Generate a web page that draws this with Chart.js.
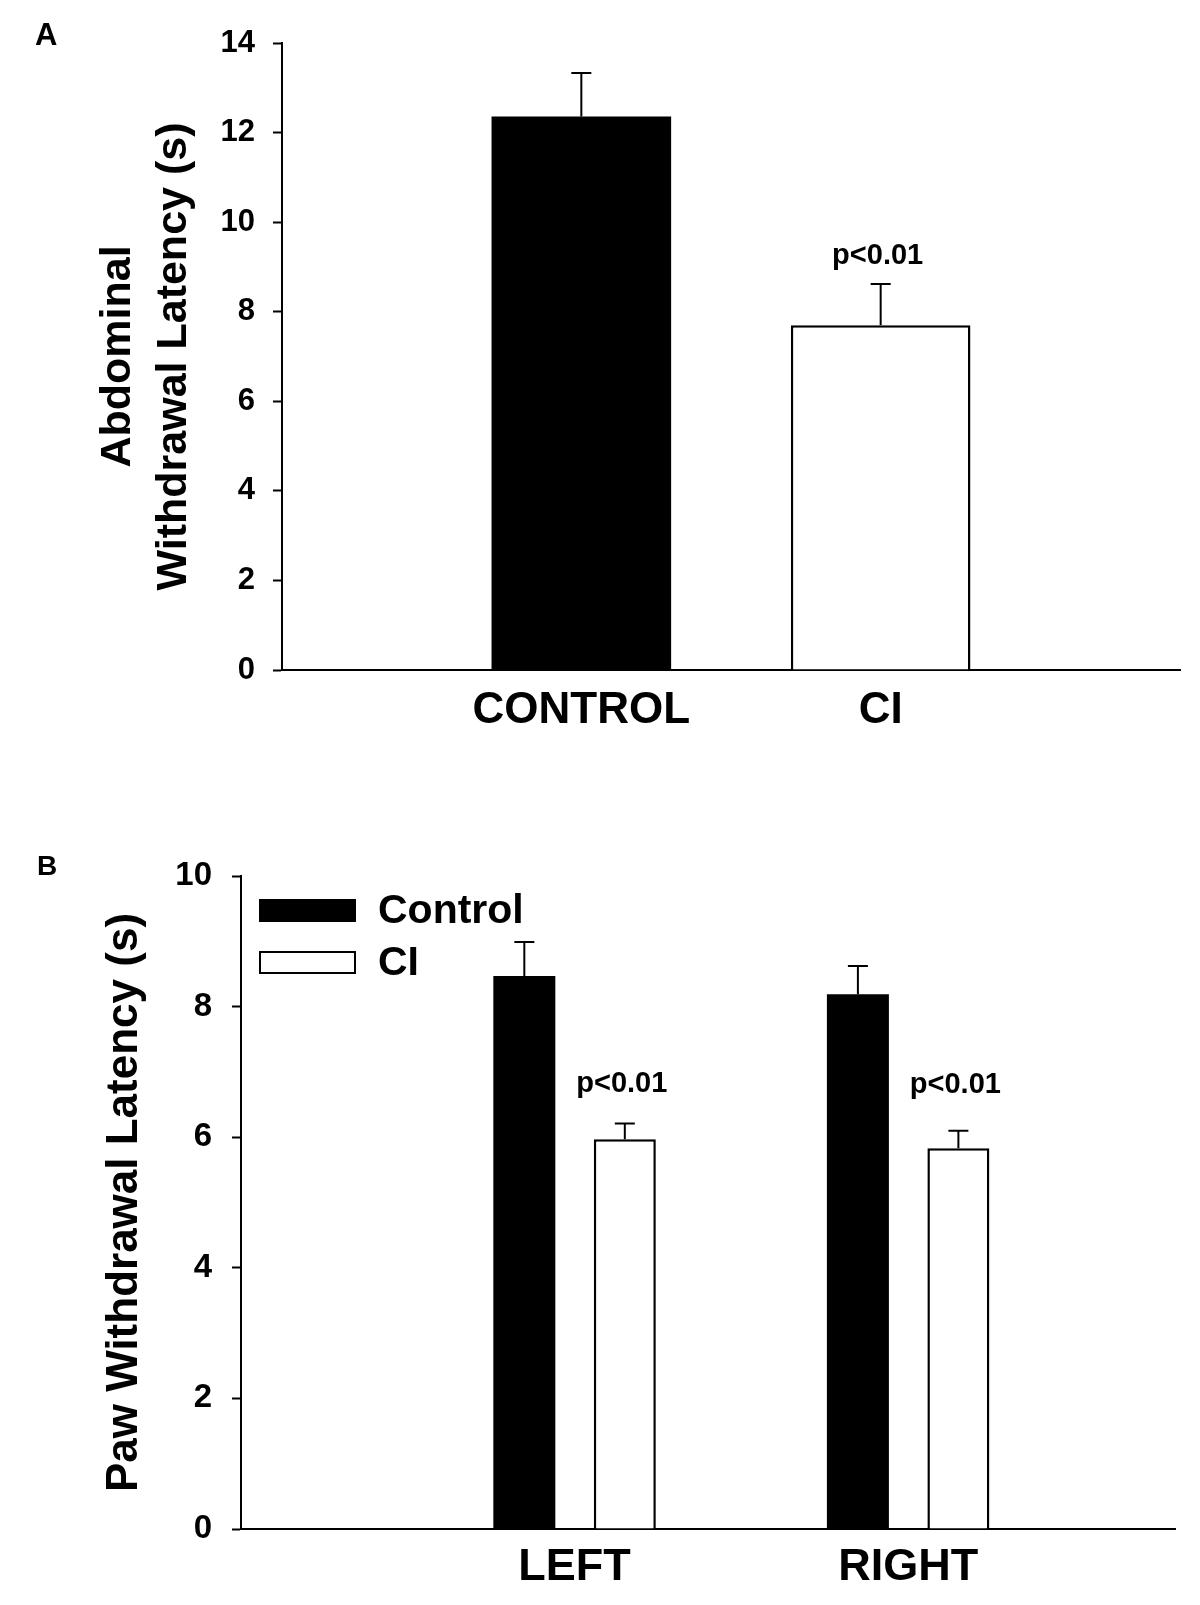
<!DOCTYPE html>
<html>
<head>
<meta charset="utf-8">
<script src="https://cdn.jsdelivr.net/npm/chart.js@4.4.0/dist/chart.umd.min.js"></script>
<style>
  body { margin: 0; background: #fff; }
  canvas { display: block; }
</style>
</head>
<body>
<canvas id="chartA" width="1200" height="790"></canvas>
<canvas id="chartB" width="1200" height="815"></canvas>
<script>
// panel A - abdominal withdrawal latency
const groupsA = ['CONTROL', 'CI'];
const latencyA = [12.36, 7.70];
const semA = [0.97, 0.92];
const pNoteA = ['', 'p<0.01'];
const pNoteYA = [null, 9.07];
const ticksA = [0, 2, 4, 6, 8, 10, 12, 14];

// panel B - paw withdrawal latency
const sidesB = ['LEFT', 'RIGHT'];
const controlB = [8.47, 8.19];
const controlSemB = [0.52, 0.43];
const ciB = [5.97, 5.83];
const ciSemB = [0.24, 0.27];
const pNoteB = ['p<0.01', 'p<0.01'];
const pNoteYB = [6.69, 6.67];
const ticksB = [0, 2, 4, 6, 8, 10];

const FONT = "'Liberation Sans', Arial, sans-serif";
Chart.defaults.font.family = FONT;
Chart.defaults.color = '#000';

// upper SEM whisker + cap, and the p-value note above it
const errorBars = {
  id: 'errorBars',
  afterDatasetsDraw(chart) {
    const ctx = chart.ctx;
    const yScale = chart.scales.y;
    chart.data.datasets.forEach((ds, di) => {
      const meta = chart.getDatasetMeta(di);
      meta.data.forEach((bar, i) => {
        const top = yScale.getPixelForValue(ds.data[i].y + ds.sem[i]);
        ctx.save();
        ctx.strokeStyle = '#000';
        ctx.lineWidth = 2;
        ctx.beginPath();
        ctx.moveTo(bar.x, bar.y);
        ctx.lineTo(bar.x, top);
        ctx.moveTo(bar.x - 10, top);
        ctx.lineTo(bar.x + 10, top);
        ctx.stroke();
        if (ds.notes && ds.notes[i]) {
          ctx.fillStyle = '#000';
          ctx.font = 'bold 29px ' + FONT;
          ctx.textAlign = 'center';
          ctx.textBaseline = 'alphabetic';
          ctx.fillText(ds.notes[i], bar.x - 3, yScale.getPixelForValue(ds.noteY[i]));
        }
        ctx.restore();
      });
    });
  }
};

const panelLetter = {
  id: 'panelLetter',
  afterDraw(chart, args, opts) {
    const ctx = chart.ctx;
    ctx.save();
    ctx.fillStyle = '#000';
    ctx.font = 'bold ' + opts.size + 'px ' + FONT;
    ctx.textBaseline = 'alphabetic';
    ctx.fillText(opts.text, opts.x, opts.y);
    ctx.restore();
  }
};

// legend drawn inside the plot area, boxes stacked
const boxLegend = {
  id: 'boxLegend',
  afterDraw(chart, args, o) {
    if (!o.show) return;
    const ctx = chart.ctx;
    const {left, top} = chart.chartArea;
    chart.data.datasets.forEach((ds, i) => {
      const x = left + o.offsetX;
      const y = top + o.offsetY + i * o.rowGap;
      ctx.save();
      ctx.fillStyle = ds.backgroundColor;
      ctx.fillRect(x, y, o.boxW, o.boxH);
      ctx.strokeStyle = '#000';
      ctx.lineWidth = 2;
      ctx.strokeRect(x, y, o.boxW, o.boxH);
      ctx.fillStyle = '#000';
      ctx.font = 'bold ' + o.size + 'px ' + FONT;
      ctx.textBaseline = 'middle';
      ctx.fillText(ds.label, x + o.boxW + o.textGap, y + o.boxH / 2 + 1);
      ctx.restore();
    });
  }
};

function yAxis(ticks, max, tickSize, tickPad, title, titleSize, lineH, titlePad, width) {
  return {
    min: 0,
    max: max,
    afterBuildTicks: s => { s.ticks = ticks.map(v => ({value: v})); },
    ticks: { font: {size: tickSize, weight: 'bold'}, color: '#000', padding: tickPad },
    grid: { drawOnChartArea: false, drawTicks: true, tickLength: 9, tickColor: '#000', tickWidth: 2 },
    border: { display: true, color: '#000', width: 2 },
    title: {
      display: true, text: title, color: '#000',
      font: {size: titleSize, weight: 'bold', lineHeight: lineH},
      padding: {top: titlePad, bottom: 0}
    },
    afterFit: s => { s.width = width; }
  };
}

function xAxis(labels, max, size, pad, height) {
  return {
    type: 'linear',
    offset: false,
    min: 0,
    max: max,
    afterBuildTicks: s => { s.ticks = labels.map((l, i) => ({value: i + 1})); },
    ticks: { callback: v => labels[v - 1], font: {size: size, weight: 'bold'}, color: '#000', padding: pad, autoSkip: false, maxRotation: 0 },
    grid: { display: false, drawTicks: false, offset: false },
    border: { display: true, color: '#000', width: 2 },
    afterFit: s => { s.height = height; }
  };
}

new Chart(document.getElementById('chartA'), {
  type: 'bar',
  data: {
    datasets: [{
      label: 'Abdominal',
      data: groupsA.map((g, i) => ({x: i + 1, y: latencyA[i]})),
      backgroundColor: ['#000', '#fff'],
      borderColor: '#000',
      borderWidth: [0, 2.5],
      categoryPercentage: 1,
      barPercentage: 0.6,
      sem: semA,
      notes: pNoteA,
      noteY: pNoteYA
    }]
  },
  options: {
    responsive: false,
    animation: false,
    layout: { padding: {top: 43, right: 20, left: 0, bottom: 0} },
    plugins: {
      legend: {display: false},
      tooltip: {enabled: false},
      panelLetter: {text: 'A', x: 35, y: 45, size: 31},
      boxLegend: {show: false}
    },
    scales: {
      x: xAxis(groupsA, 3, 44, 14, 120),
      y: yAxis(ticksA, 14, 31, 18, ['Abdominal', 'Withdrawal Latency (s)'], 43, 1.3, 90, 282)
    }
  },
  plugins: [errorBars, panelLetter, boxLegend]
});

new Chart(document.getElementById('chartB'), {
  type: 'bar',
  data: {
    datasets: [{
      label: 'Control',
      data: sidesB.map((s, i) => ({x: i + 1, y: controlB[i]})),
      backgroundColor: '#000',
      borderColor: '#000',
      borderWidth: 0,
      sem: controlSemB
    }, {
      label: 'CI',
      data: sidesB.map((s, i) => ({x: i + 1, y: ciB[i]})),
      backgroundColor: '#fff',
      borderColor: '#000',
      borderWidth: 2.5,
      sem: ciSemB,
      notes: pNoteB,
      noteY: pNoteYB
    }]
  },
  options: {
    responsive: false,
    animation: false,
    datasets: { bar: { categoryPercentage: 0.6025, barPercentage: 0.617 } },
    layout: { padding: {top: 86, right: 25, left: 0, bottom: 0} },
    plugins: {
      legend: {display: false},
      tooltip: {enabled: false},
      panelLetter: {text: 'B', x: 37, y: 85, size: 28},
      boxLegend: {show: true, offsetX: 19, offsetY: 24, rowGap: 52, boxW: 95, boxH: 21, textGap: 23, size: 41}
    },
    scales: {
      x: xAxis(sidesB, 2.8, 45, 12, 76),
      y: yAxis(ticksB, 10, 33, 20, 'Paw Withdrawal Latency (s)', 44, 1.2, 98, 241)
    }
  },
  plugins: [errorBars, panelLetter, boxLegend]
});
</script>
</body>
</html>
